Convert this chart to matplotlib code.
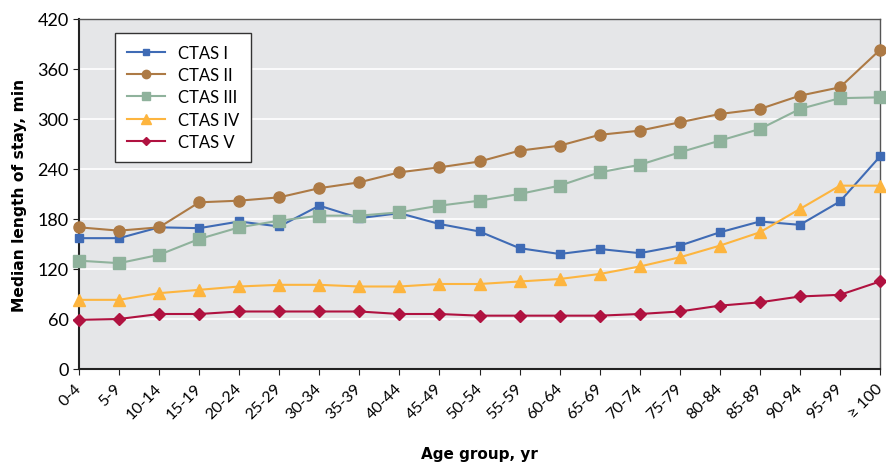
import matplotlib
matplotlib.use("Agg")
import matplotlib.pyplot as plt

plt.rcParams['font.family'] = ['Lato', 'DejaVu Sans']

age_groups = ["0-4", "5-9", "10-14", "15-19", "20-24", "25-29", "30-34", "35-39",
              "40-44", "45-49", "50-54", "55-59", "60-64", "65-69", "70-74", "75-79",
              "80-84", "85-89", "90-94", "95-99", "\u2265 100"]

ctas1 = [157, 157, 170, 169, 177, 171, 196, 181, 187, 174, 165, 145, 138, 144, 139, 148,
         164, 177, 173, 201, 255]
ctas2 = [170, 166, 170, 200, 202, 206, 217, 224, 236, 242, 249, 262, 268, 281, 286, 296,
         306, 312, 328, 338, 383]
ctas3 = [130, 127, 137, 156, 170, 178, 184, 184, 188, 196, 202, 210, 220, 236, 245, 260,
         274, 288, 312, 325, 326]
ctas4 = [83, 83, 91, 95, 99, 101, 101, 99, 99, 102, 102, 105, 108, 114, 123, 134,
         148, 164, 192, 220, 220]
ctas5 = [59, 60, 66, 66, 69, 69, 69, 69, 66, 66, 64, 64, 64, 64, 66, 69,
         76, 80, 87, 89, 105]

series = [
    ("CTAS I", ctas1, "#3F6BB5", "s", 6),
    ("CTAS II", ctas2, "#AD7A45", "o", 8),
    ("CTAS III", ctas3, "#8FB29C", "s", 8),
    ("CTAS IV", ctas4, "#FDB53F", "^", 9),
    ("CTAS V", ctas5, "#B01240", "D", 6),
]

fig = plt.figure(figsize=(8.86, 4.64), dpi=100)
ax = fig.add_axes([0.0892, 0.2026, 0.9040, 0.7543])
ax.set_facecolor("#E5E6E8")

x = list(range(len(age_groups)))
for name, vals, col, mk, ms in series:
    ax.plot(x, vals, color=col, marker=mk, markersize=ms, linewidth=1.5,
            label=name, clip_on=False, zorder=3)

ax.set_xlim(0, len(age_groups) - 1)
ax.set_ylim(0, 420)
ax.set_yticks(range(0, 421, 60))
ax.yaxis.grid(True, color="white", linewidth=1.2)
ax.set_axisbelow(True)
ax.set_xticks(x)
ax.set_xticklabels(age_groups, rotation=45, ha="right", va="center",
                   rotation_mode="anchor", fontsize=11.5)
ax.tick_params(axis="y", labelsize=13, length=4, color="#222222")
ax.tick_params(axis="x", length=4, color="#222222", pad=8)

for s in ["left", "bottom"]:
    ax.spines[s].set_color("#222222")
    ax.spines[s].set_linewidth(1.5)
for s in ["top", "right"]:
    ax.spines[s].set_color("#555555")
    ax.spines[s].set_linewidth(1.0)

ax.set_ylabel("Median length of stay, min", fontsize=11.2, fontweight="bold",
              family="DejaVu Sans")
ax.yaxis.set_label_coords(-0.065, 0.5)
ax.set_xlabel("Age group, yr", fontsize=11, fontweight="bold", family="DejaVu Sans")
ax.xaxis.set_label_coords(0.5, -0.22)

leg = ax.legend(loc="upper left", bbox_to_anchor=(0.045, 0.96), fontsize=12,
                frameon=True, fancybox=False, handlelength=2.3, borderpad=0.7,
                labelspacing=0.38, markerscale=0.75, handletextpad=0.8,
                borderaxespad=0)
leg.get_frame().set_edgecolor("#333333")
leg.get_frame().set_linewidth(1.0)
leg.get_frame().set_facecolor("white")
leg.get_frame().set_alpha(1)

fig.savefig("out.png", dpi=100)
